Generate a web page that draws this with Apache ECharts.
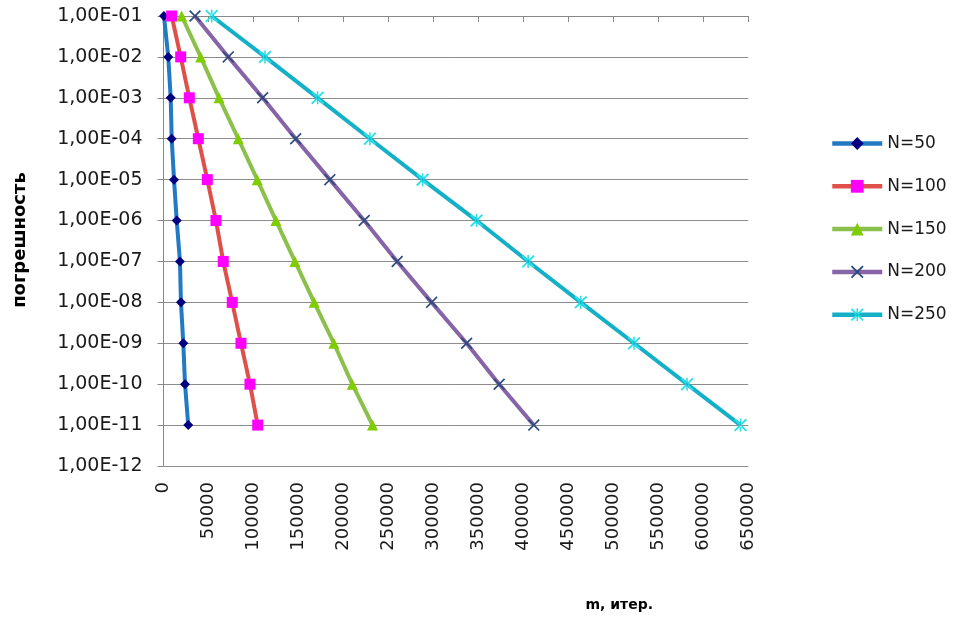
<!DOCTYPE html>
<html>
<head>
<meta charset="utf-8">
<script src="https://cdn.jsdelivr.net/npm/echarts@6/dist/echarts.min.js"></script>
<style>
html,body{margin:0;padding:0;background:#fff;}
#chart{width:953px;height:620px;}
</style>
</head>
<body>
<div id="chart"></div>
<script>
// error levels (y)
const errors = [1e-1, 1e-2, 1e-3, 1e-4, 1e-5, 1e-6, 1e-7, 1e-8, 1e-9, 1e-10, 1e-11];
// iterations m (x) for each N
const m50  = [500, 5300, 8000, 9100, 11700, 14700, 18300, 19400, 22000, 23900, 27500];
const m100 = [9100, 19100, 28700, 38700, 48700, 58300, 66400, 76400, 86100, 96100, 104700];
const m150 = [20200, 41300, 61700, 83100, 104200, 125000, 146100, 167500, 189400, 209800, 232400];
const m200 = [35000, 72000, 110200, 146900, 184900, 223100, 259700, 298000, 336900, 373100, 411600];
const m250 = [53600, 112800, 171300, 229400, 288000, 348000, 405300, 463800, 523000, 581900, 641300];
const seriesNames = ['N=50', 'N=100', 'N=150', 'N=200', 'N=250'];
const yTitle = 'погрешность';
const xTitle = 'm, итер.';

const FONT = 'DejaVu Sans';
const xMark = 'path://M0,1L1,0L5,4L9,0L10,1L6,5L10,9L9,10L5,6L1,10L0,9L4,5Z';
const starMark = 'path://M0,1L1,0L5,4L9,0L10,1L6,5L10,9L9,10L5,6L1,10L0,9L4,5Z M4.4,0L4.4,10L5.6,10L5.6,0Z';

function pairs(xs){ return xs.map((x,i)=>[x, errors[i]]); }

const styles = [
  {data:m50,  line:'#2279c4', mark:'#000080', symbol:'diamond',  size:10},
  {data:m100, line:'#e0504a', mark:'#ff00ff', symbol:'rect',     size:11},
  {data:m150, line:'#8cc04c', mark:'#7fcc00', symbol:'triangle', size:11},
  {data:m200, line:'#8764a8', mark:'#2c4a7c', symbol:xMark,      size:12},
  {data:m250, line:'#14b0c8', mark:'#2ae0e8', symbol:starMark,   size:13}
];

const series = styles.map((s,i)=>({
  name: seriesNames[i],
  type: 'line',
  xAxisIndex: 0,
  data: pairs(s.data),
  symbol: s.symbol,
  symbolSize: s.size,
  showAllSymbol: true,
  lineStyle: {color: s.line, width: 4},
  itemStyle: {color: s.mark, borderWidth: 0},
  emphasis: {disabled: true},
  animation: false
}));

const chart = echarts.init(document.getElementById('chart'));
chart.setOption({
  animation: false,
  grid: {left: 163.5, right: 204.7, top: 16, bottom: 154, containLabel: false},
  legend: {
    orient: 'vertical',
    left: 825,
    top: 130,
    itemWidth: 50,
    itemHeight: 16,
    itemGap: 25.8,
    data: seriesNames,
    lineStyle: {width: 4.5},
    textStyle: {fontFamily: FONT, fontSize: 17, color: '#1a1a1a'}
  },
  xAxis: [
    {
      type: 'value', position: 'bottom', min: 0, max: 650000, interval: 50000,
      axisLine: {show: false},
      axisTick: {show: false},
      splitLine: {show: false},
      axisLabel: {rotate: 90, margin: 16, fontFamily: FONT, fontSize: 18, color: '#1a1a1a',
                  formatter: v => String(v)}
    },
    {
      type: 'value', position: 'top', min: 0, max: 650000, interval: 50000,
      axisLine: {show: true, onZero: false, lineStyle: {color: '#888', width: 1}},
      axisTick: {show: true, inside: true, length: 6, lineStyle: {color: '#888'}},
      splitLine: {show: false},
      axisLabel: {show: false}
    }
  ],
  yAxis: {
    type: 'log', logBase: 10, min: 1e-12, max: 1e-1, interval: 1,
    axisLine: {show: true, onZero: false, lineStyle: {color: '#888', width: 1}},
    axisTick: {show: true, length: 6, lineStyle: {color: '#888'}},
    splitLine: {show: true, lineStyle: {color: '#8c8c8c', width: 1}},
    minorTick: {show: false},
    axisLabel: {
      margin: 21, fontFamily: FONT, fontSize: 19, color: '#1a1a1a',
      formatter: v => {
        const e = Math.round(Math.log10(v));
        return '1,00E' + (e < 0 ? '-' : '+') + String(Math.abs(e)).padStart(2, '0');
      }
    }
  },
  graphic: [
    {type: 'text', x: 20, y: 240, rotation: Math.PI/2,
     style: {text: yTitle, font: 'bold 18px "DejaVu Sans"', fill: '#000', align: 'center', verticalAlign: 'middle'}},
    {type: 'text', x: 653, y: 605,
     style: {text: xTitle, font: 'bold 14px "DejaVu Sans"', fill: '#000', align: 'right', verticalAlign: 'middle'}}
  ],
  series: series
});
</script>
</body>
</html>
